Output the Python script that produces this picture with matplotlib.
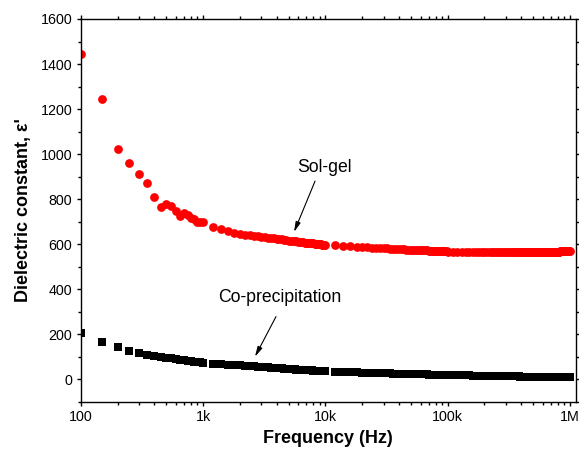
import matplotlib
matplotlib.use("Agg")
import matplotlib.pyplot as plt
from matplotlib.ticker import FixedLocator, FixedFormatter, MultipleLocator, NullFormatter, LogLocator

plt.rcParams['font.family'] = ['Liberation Sans', 'DejaVu Sans']

# ---- data ----
freq_dec1 = [100, 150, 200, 250, 300, 350, 400, 450, 500, 550, 600, 650, 700, 750, 800, 850, 900, 950, 1000]
freq_dec2 = [1200, 1400, 1600, 1800, 2000, 2200, 2400, 2600, 2800, 3000, 3200, 3400, 3600, 3800, 4000,
             4200, 4400, 4600, 4800, 5000, 5200, 5400, 5600, 5800, 6000, 6200, 6400, 6600, 6800, 7000,
             7200, 7400, 7600, 7800, 8000, 8200, 8400, 8600, 8800, 9000, 9200, 9400, 9600, 9800, 10000]
freq_dec3 = [12000, 14000, 16000, 18000, 20000, 22000, 24000, 26000, 28000, 30000, 32000, 34000, 36000,
             38000, 40000, 42000, 44000, 46000, 48000, 50000, 52000, 54000, 56000, 58000, 60000, 62000,
             64000, 66000, 68000, 70000, 72000, 74000, 76000, 78000, 80000, 82000, 84000, 86000, 88000,
             90000, 92000, 94000, 96000, 98000, 100000]
freq_dec4 = [110000, 120000, 130000, 140000, 150000, 160000, 170000, 180000, 190000, 200000,
             210000, 220000, 230000, 240000, 250000, 260000, 270000, 280000, 290000, 300000,
             310000, 320000, 330000, 340000, 350000, 360000, 370000, 380000, 390000, 400000,
             410000, 420000, 430000, 440000, 450000, 460000, 470000, 480000, 490000, 500000,
             510000, 520000, 530000, 540000, 550000, 560000, 570000, 580000, 590000, 600000,
             610000, 620000, 630000, 640000, 650000, 660000, 670000, 680000, 690000, 700000,
             710000, 720000, 730000, 740000, 750000, 760000, 770000, 780000, 790000, 800000,
             810000, 820000, 830000, 840000, 850000, 860000, 870000, 880000, 890000, 900000,
             910000, 920000, 930000, 940000, 950000, 960000, 970000, 980000, 990000, 1000000]

solgel_dec1 = [1445, 1245, 1021, 962, 911, 872, 810, 767, 776, 771, 747, 725, 739, 730, 717, 710, 700, 697, 698]
solgel_dec2 = [675, 665, 657, 650, 645, 642, 639, 636, 634, 632, 630, 628, 627, 625, 623,
               622, 621, 619, 618, 616, 615, 614, 613, 612, 611, 610, 609, 608, 607, 607,
               606, 605, 604, 604, 603, 602, 602, 601, 600, 600, 599, 598, 598, 597, 596]
solgel_dec3 = [594, 592, 590, 588, 586, 585, 584, 583, 582, 581, 581, 580, 579, 579, 578,
               578, 577, 576, 576, 575, 575, 574, 574, 573, 573, 573, 572, 572, 572, 571,
               571, 571, 570, 570, 570, 569, 569, 569, 569, 568, 568, 568, 568, 568, 567]
solgel_dec4 = [567, 566, 566, 566, 565, 565, 565, 565, 564, 564,
               564, 564, 564, 564, 563, 563, 563, 563, 563, 563,
               563, 563, 563, 563, 563, 563, 563, 563, 563, 563,
               563, 563, 563, 563, 563, 563, 563, 564, 564, 564,
               564, 564, 564, 564, 564, 564, 565, 565, 565, 565,
               565, 565, 565, 565, 565, 566, 566, 566, 566, 566,
               566, 566, 566, 566, 567, 567, 567, 567, 567, 567,
               567, 567, 568, 568, 568, 568, 568, 568, 569, 569,
               569, 569, 569, 569, 570, 570, 570, 570, 571, 571]

coprec_dec1 = [206, 164, 142, 124, 116, 108, 103, 99, 95, 92, 89, 86, 84, 82, 80, 78, 77, 75, 74]
coprec_dec2 = [69, 67, 65, 63, 61, 60, 59, 57, 56, 54, 53, 52, 51, 50, 49,
               48, 48, 47, 46, 45, 45, 44, 44, 43, 43, 42, 42, 41, 41, 40,
               40, 39, 39, 39, 38, 38, 37, 37, 37, 36, 36, 36, 35, 35, 35]
coprec_dec3 = [33, 32, 31, 30, 29, 29, 28, 28, 27, 27, 26, 26, 25, 25, 25,
               24, 24, 24, 23, 23, 23, 22, 22, 22, 22, 21, 21, 21, 21, 20,
               20, 20, 20, 20, 19, 19, 19, 19, 19, 19, 18, 18, 18, 18, 18]
coprec_dec4 = [18, 17, 17, 17, 17, 16, 16, 16, 15, 15,
               15, 15, 15, 15, 14, 14, 14, 14, 14, 14,
               13, 13, 13, 13, 13, 13, 13, 13, 12, 12,
               12, 12, 12, 12, 12, 12, 12, 12, 11, 11,
               11, 11, 11, 11, 11, 11, 11, 11, 11, 11,
               10, 10, 10, 10, 10, 10, 10, 10, 10, 10,
               10, 10, 10, 10, 9, 9, 9, 9, 9, 9,
               9, 9, 9, 9, 9, 9, 9, 9, 9, 8,
               8, 8, 8, 8, 8, 8, 8, 8, 8, 8]

freq = freq_dec1 + freq_dec2 + freq_dec3 + freq_dec4
solgel = solgel_dec1 + solgel_dec2 + solgel_dec3 + solgel_dec4
coprec = coprec_dec1 + coprec_dec2 + coprec_dec3 + coprec_dec4

x_ticks = [100, 1000, 10000, 100000, 1000000]
x_tick_labels = ['100', '1k', '10k', '100k', '1M']
y_ticks = [0, 200, 400, 600, 800, 1000, 1200, 1400, 1600]

# ---- figure ----
fig = plt.figure(figsize=(5.79, 4.50), dpi=100)
ax = fig.add_axes([0.1394, 0.1073, 0.8554, 0.8505])

ax.plot(freq, solgel, linestyle='none', marker='o', markersize=6.3,
        markerfacecolor='#ff0000', markeredgecolor='#ff0000', markeredgewidth=0)
ax.plot(freq, coprec, linestyle='none', marker='s', markersize=5.4,
        markerfacecolor='black', markeredgecolor='black', markeredgewidth=0)

ax.set_xscale('log')
ax.set_xlim(100, 1.12e6)
ax.set_ylim(-100, 1600)

ax.xaxis.set_major_locator(FixedLocator(x_ticks))
ax.xaxis.set_major_formatter(FixedFormatter(x_tick_labels))
ax.xaxis.set_minor_locator(LogLocator(base=10, subs=[2, 3, 4, 5, 6, 7, 8, 9], numticks=20))
ax.xaxis.set_minor_formatter(NullFormatter())
ax.yaxis.set_major_locator(FixedLocator(y_ticks))
ax.yaxis.set_minor_locator(MultipleLocator(100))

ax.tick_params(which='both', direction='out', top=True, right=True, width=1.0,
               labelsize=10.3, colors='black', pad=3)
ax.tick_params(which='major', length=3.0)
ax.tick_params(which='minor', length=2.0)
for s in ax.spines.values():
    s.set_linewidth(1.0)

ax.set_xlabel('Frequency (Hz)', fontsize=13, fontweight='bold', labelpad=4)
ax.set_ylabel("Dielectric constant, ε'", fontsize=13, fontweight='bold', labelpad=6)

# annotations
ax.text(9750, 942, 'Sol-gel', fontsize=12.7, ha='center', va='center')
ax.annotate('', xy=(5550, 654), xytext=(8240, 880),
            arrowprops=dict(arrowstyle='-|>,head_length=0.6,head_width=0.15', lw=0.8, color='black',
                            shrinkA=0, shrinkB=0))
ax.text(4270, 365, 'Co-precipitation', fontsize=12.7, ha='center', va='center')
ax.annotate('', xy=(2660, 100), xytext=(3950, 278),
            arrowprops=dict(arrowstyle='-|>,head_length=0.6,head_width=0.15', lw=0.8, color='black',
                            shrinkA=0, shrinkB=0))

fig.savefig('out.png', dpi=100)
